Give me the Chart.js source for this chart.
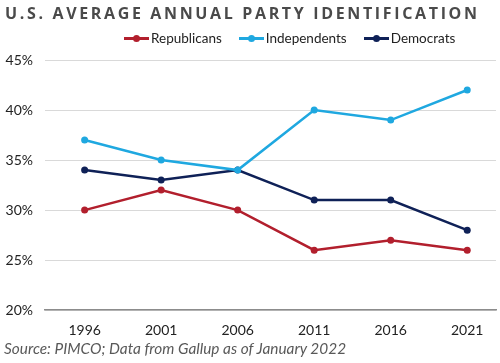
<!DOCTYPE html>
<html>
<head>
<meta charset="utf-8">
<script src="https://cdn.jsdelivr.net/npm/chart.js@4/dist/chart.umd.min.js"></script>
<style>
  html, body { margin: 0; padding: 0; background: #fff; }
  #wrap { position: relative; width: 500px; height: 363px; overflow: hidden; font-family: Lato, "Open Sans", sans-serif; }
  #title { position: absolute; left: 5px; top: 2px; font-family: "Open Sans", sans-serif; font-weight: 700; font-size: 16px; letter-spacing: 2.65px; color: #4a4a4a; white-space: nowrap; }
  #legend { position: absolute; top: 30px; left: 124px; display: flex; align-items: center; font-size: 13.5px; color: #222; white-space: nowrap; }
  .item { display: flex; align-items: center; margin-right: 17px; }
  .mk { position: relative; width: 25px; height: 10px; margin-right: 2px; }
  .mk .ln { position: absolute; left: 0; right: 0; top: 4px; height: 3px; }
  .mk .dt { position: absolute; left: 9px; top: 2px; width: 7px; height: 7px; border-radius: 50%; }
  #source { position: absolute; left: 4px; top: 339px; font-style: italic; font-size: 15.4px; color: #595959; white-space: nowrap; }
  canvas { position: absolute; left: 0; top: 0; }
</style>
</head>
<body>
<div id="wrap">
  <canvas id="c" width="500" height="363"></canvas>
  <div id="title">U.S. AVERAGE ANNUAL PARTY IDENTIFICATION</div>
  <div id="legend"></div>
  <div id="source">Source: PIMCO; Data from Gallup as of January 2022</div>
</div>
<script>
const years = [1996, 2001, 2006, 2011, 2016, 2021];
const republicans = [30, 32, 30, 26, 27, 26];
const independents = [37, 35, 34, 40, 39, 42];
const democrats = [34, 33, 34, 31, 31, 28];
const yTicks = [20, 25, 30, 35, 40, 45];

const series = [
  { label: 'Republicans', data: republicans, color: '#b21f2d' },
  { label: 'Independents', data: independents, color: '#1fa8e0' },
  { label: 'Democrats', data: democrats, color: '#0f2157' }
];

const legend = document.getElementById('legend');
series.forEach(s => {
  const it = document.createElement('div');
  it.className = 'item';
  it.innerHTML = '<div class="mk"><div class="ln" style="background:' + s.color + '"></div><div class="dt" style="background:' + s.color + '"></div></div><span>' + s.label + '</span>';
  legend.appendChild(it);
});

new Chart(document.getElementById('c'), {
  type: 'line',
  data: {
    datasets: series.map(s => ({
      label: s.label,
      data: years.map((y, i) => ({ x: y, y: s.data[i] })),
      borderColor: s.color,
      backgroundColor: s.color,
      borderWidth: 2.5,
      pointRadius: 3.5,
      pointBorderWidth: 0,
      tension: 0
    }))
  },
  options: {
    responsive: false,
    animation: false,
    layout: { padding: { top: 60, bottom: 20, left: 0, right: 0 } },
    plugins: { legend: { display: false }, title: { display: false }, tooltip: { enabled: false } },
    scales: {
      x: {
        type: 'linear',
        min: 1993.41,
        max: 2022.88,
        afterBuildTicks: sc => { sc.ticks = years.map(v => ({ value: v })); },
        grid: { display: false },
        border: { color: '#8c8c8c', width: 1.5 },
        ticks: { padding: 4, color: '#222', font: { family: 'Lato', size: 14 }, callback: v => String(v), maxRotation: 0 }
      },
      y: {
        min: 20,
        max: 45,
        afterBuildTicks: sc => { sc.ticks = yTicks.map(v => ({ value: v })); },
        afterFit: sc => { sc.width = 45; },
        grid: { color: '#d9d9d9', lineWidth: 1, drawTicks: false },
        border: { display: false },
        ticks: { padding: 12, color: '#222', font: { family: 'Lato', size: 14 }, callback: v => v + '%' }
      }
    }
  }
});
</script>
</body>
</html>
